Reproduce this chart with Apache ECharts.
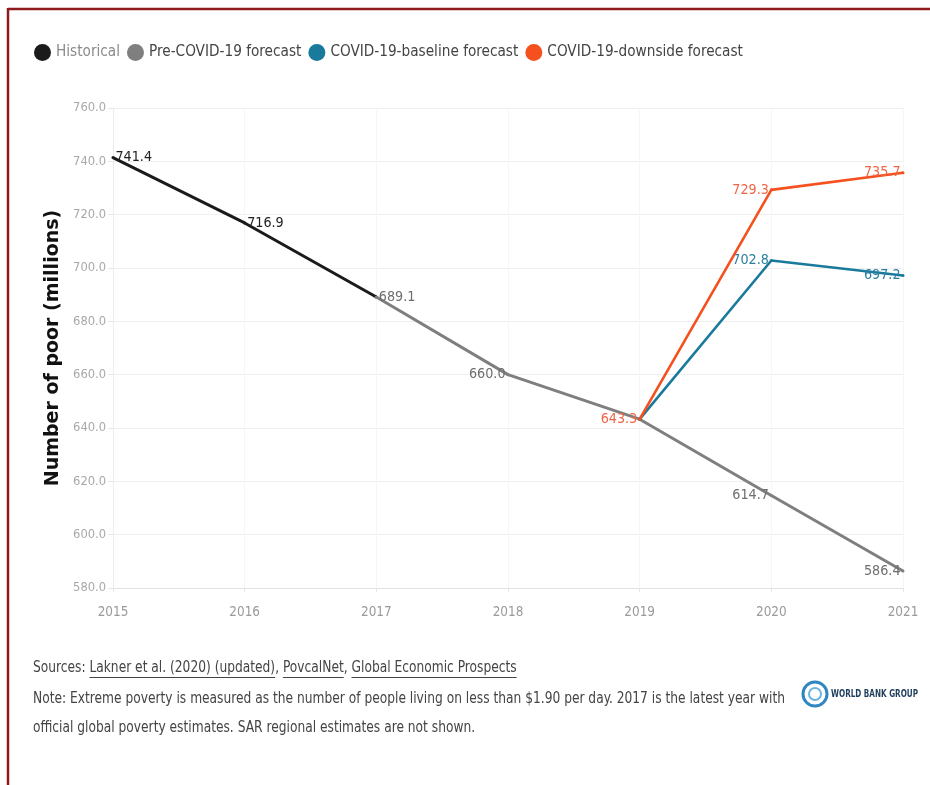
<!DOCTYPE html>
<html>
<head>
<meta charset="utf-8">
<script src="https://cdn.jsdelivr.net/npm/echarts@6/dist/echarts.min.js"></script>
<style>
html,body{margin:0;padding:0;background:#fff;}
#chart{width:930px;height:785px;}
</style>
</head>
<body>
<div id="chart"></div>
<script>
// ---- data ----
const years = ['2015','2016','2017','2018','2019','2020','2021'];
const historical = [741.4, 716.9, 689.1, null, null, null, null];
const preCovid = [null, null, 689.1, 660.0, 643.3, 614.7, 586.4];
const covidBaseline = [null, null, null, null, 643.3, 702.8, 697.2];
const covidDownside = [null, null, null, null, 643.3, 729.3, 735.7];
const seriesNames = ['Historical', 'Pre-COVID-19 forecast', 'COVID-19-baseline forecast', 'COVID-19-downside forecast'];
const yTicks = {min: 580, max: 760, interval: 20};
const sourcesPrefix = 'Sources: ';
const sourceLinks = ['Lakner et al. (2020) (updated)', 'PovcalNet', 'Global Economic Prospects'];
const noteLines = [
  'Note: Extreme poverty is measured as the number of people living on less than $1.90 per day. 2017 is the latest year with',
  'official global poverty estimates. SAR regional estimates are not shown.'
];
const logoText = 'WORLD BANK GROUP';

// ---- font detection ----
const cv = document.createElement('canvas').getContext('2d');
function hasFont(name) {
  const s = 'abcdefghijklmnopqrstuvwxyz0123456789';
  cv.font = '40px monospace';
  const a = cv.measureText(s).width;
  cv.font = '40px "' + name + '", monospace';
  const b = cv.measureText(s).width;
  return Math.abs(a - b) > 0.5;
}
const narrowCandidates = ['Liberation Sans Narrow', 'DejaVu Sans Condensed', 'Roboto Condensed', 'Open Sans Condensed', 'Arial Narrow'];
let narrowName = null;
for (const c of narrowCandidates) { if (hasFont(c)) { narrowName = c; break; } }
const NARROW = narrowName ? '"' + narrowName + '", sans-serif' : '"Liberation Sans", sans-serif';

// ---- styles ----
const colors = ['#1b1b1b', '#7f7f7f', '#1a7a9c', '#f4511e'];
const labelColors = ['#222222', '#6e6e6e', '#2a7fa0', '#f26446'];
const labelPlans = [
  ['r','r','-','-','-','-','-'],
  ['-','-','r','l','-','l','l'],
  ['-','-','-','-','-','l','l'],
  ['-','-','-','-','l','l','l']
];
const allData = [historical, preCovid, covidBaseline, covidDownside];
const widths = [3, 3, 2.6, 2.6];

function fitSize(sample, target, nominal) {
  cv.font = '100px ' + NARROW;
  const w = cv.measureText(sample).width;
  const fit = 100 * target / w;
  return Math.round(((Math.min(fit, nominal) + nominal) / 2) * 10) / 10;
}
const legendSize = fitSize('COVID-19-downside forecast', 178, 16.5);
const labelSize = fitSize('729.3', 36, 14.5);
const xLabSize = fitSize('2018', 28, 14.5);
const yLabSize = fitSize('760.0', 31, 13.5);

function buildData(arr, plan, si) {
  return arr.map((v, i) => {
    if (v === null) return null;
    const p = plan[i];
    return {
      value: v,
      label: {
        show: p !== '-',
        position: p === 'l' ? 'left' : 'right',
        distance: 1,
        color: labelColors[si],
        fontFamily: NARROW,
        fontSize: labelSize,
        formatter: (d) => Number(d.value).toFixed(1)
      }
    };
  });
}

const series = allData.map((arr, si) => ({
  name: seriesNames[si],
  type: 'line',
  data: buildData(arr, labelPlans[si], si),
  connectNulls: false,
  symbol: 'circle',
  symbolSize: 3,
  showSymbol: true,
  lineStyle: {color: colors[si], width: widths[si]},
  itemStyle: {color: colors[si]},
  z: 2 + si,
  animation: false
}));

const footSize = 15;
const footFont = footSize + 'px ' + NARROW;
cv.font = footFont;
const footScale = Math.min(1, 752 / cv.measureText(noteLines[0]).width);
const footX = 33;
let x = cv.measureText(sourcesPrefix).width;
const underlines = [];
sourceLinks.forEach((s, i) => {
  const w = cv.measureText(s).width;
  underlines.push({x1: footX + x * footScale, x2: footX + (x + w) * footScale});
  x += w;
  if (i < sourceLinks.length - 1) x += cv.measureText(', ').width;
});
const sourcesText = sourcesPrefix + sourceLinks.join(', ');

const logoFont = 'bold 10px ' + NARROW;
cv.font = logoFont;
const logoScale = Math.min(1, 87 / cv.measureText(logoText).width);

const graphics = [
  {type: 'line', shape: {x1: 8, y1: 9, x2: 930, y2: 9}, style: {stroke: '#8e1b1b', lineWidth: 2.5}, silent: true},
  {type: 'line', shape: {x1: 8, y1: 8, x2: 8, y2: 785}, style: {stroke: '#8e1b1b', lineWidth: 2.5}, silent: true},
  {type: 'text', x: footX, y: 668, scaleX: footScale, style: {text: sourcesText, font: footFont, fill: '#444', textVerticalAlign: 'middle'}},
  {type: 'text', x: footX, y: 699, scaleX: footScale, style: {text: noteLines[0], font: footFont, fill: '#444', textVerticalAlign: 'middle'}},
  {type: 'text', x: footX, y: 728, scaleX: footScale, style: {text: noteLines[1], font: footFont, fill: '#444', textVerticalAlign: 'middle'}},
  {type: 'circle', shape: {cx: 815, cy: 694, r: 12}, style: {fill: 'none', stroke: '#2f86c0', lineWidth: 3}},
  {type: 'circle', shape: {cx: 815, cy: 694, r: 6}, style: {fill: 'none', stroke: '#6fb3de', lineWidth: 2}},
  {type: 'text', x: 831, y: 694, scaleX: logoScale, style: {text: logoText, font: logoFont, fill: '#1f3d5c', textVerticalAlign: 'middle'}}
];
underlines.forEach(u => {
  graphics.push({type: 'line', shape: {x1: u.x1, y1: 677.5, x2: u.x2, y2: 677.5}, style: {stroke: '#444', lineWidth: 1}, silent: true});
});

const chart = echarts.init(document.getElementById('chart'), null, {renderer: 'canvas'});
chart.setOption({
  backgroundColor: '#ffffff',
  animation: false,
  color: colors,
  legend: {
    left: 29, top: 39,
    icon: 'circle',
    itemWidth: 17, itemHeight: 17,
    itemGap: 7,
    data: seriesNames.map((n, i) => ({name: n, textStyle: {color: i === 0 ? '#8a8a8a' : '#444'}})),
    textStyle: {fontFamily: NARROW, fontSize: legendSize, color: '#444'}
  },
  grid: {left: 113, right: 27, top: 108, bottom: 197, containLabel: false},
  xAxis: {
    type: 'category',
    data: years,
    boundaryGap: false,
    axisLine: {lineStyle: {color: '#e2e2e2'}},
    axisTick: {show: true, length: 4, lineStyle: {color: '#e6e6e6'}},
    axisLabel: {color: '#9a9a9a', fontFamily: NARROW, fontSize: xLabSize, margin: 18},
    splitLine: {show: true, lineStyle: {color: '#f6f6f6'}}
  },
  yAxis: {
    type: 'value',
    min: yTicks.min, max: yTicks.max, interval: yTicks.interval,
    name: 'Number of poor (millions)',
    nameLocation: 'middle',
    nameGap: 50,
    nameTextStyle: {fontFamily: '"DejaVu Sans", sans-serif', fontSize: 19, fontWeight: 'bold', color: '#111', padding: [0, 0, 0, 0]},
    axisLine: {show: true, lineStyle: {color: '#ececec'}},
    axisTick: {show: true, length: 5, lineStyle: {color: '#e6e6e6'}},
    axisLabel: {color: '#a8a8a8', fontFamily: NARROW, fontSize: yLabSize, margin: 7, formatter: v => v.toFixed(1)},
    splitLine: {lineStyle: {color: '#efefef'}}
  },
  series: series,
  graphic: graphics
});
</script>
</body>
</html>
